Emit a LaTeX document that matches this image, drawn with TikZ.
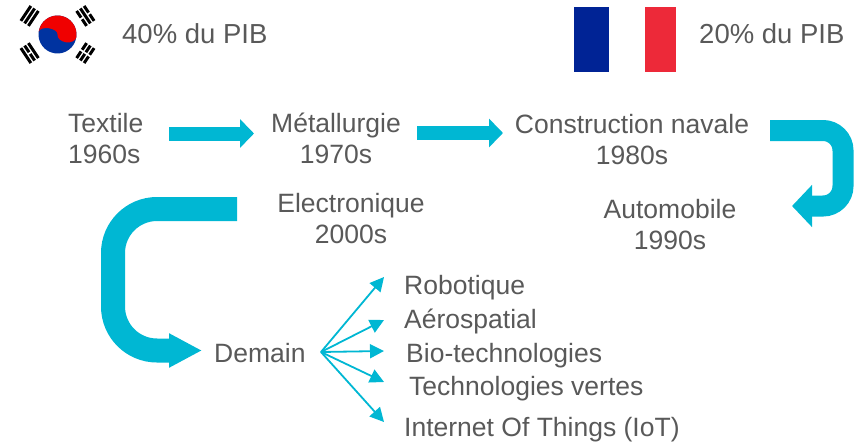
\documentclass[tikz,border=0pt]{standalone}
\usepackage{fontspec}
\setmainfont{Liberation Sans}
\usetikzlibrary{arrows.meta}
\definecolor{cyanA}{RGB}{0,183,211}
\definecolor{txtgray}{RGB}{89,89,89}
\definecolor{krred}{RGB}{240,0,0}
\definecolor{krblue}{RGB}{0,51,160}
\definecolor{frblue}{RGB}{0,35,149}
\definecolor{frred}{RGB}{237,41,57}
\newcommand\tstrut{\rule{0pt}{22pt}}
\newcommand\krsolid[1]{\fill (#1-1.5,-9) rectangle (#1+1.5,9);}
\newcommand\krbroken[1]{\fill (#1-1.5,-9) rectangle (#1+1.5,-1); \fill (#1-1.5,1) rectangle (#1+1.5,9);}
\begin{document}
\begin{tikzpicture}[x=1pt,y=-1pt,
  lbl/.style={font=\fontsize{26.5}{31}\selectfont, text=txtgray, inner sep=0pt},
  hdr/.style={font=\fontsize{27.5}{33}\selectfont, text=txtgray, inner sep=0pt},
  two/.style={lbl, align=center, anchor=north},
  blockarrow/.style={draw=cyanA, line width=14pt, -{Triangle[length=14pt,width=28pt]}},
  fanarrow/.style={draw=cyanA, line width=1.8pt, -{Triangle[length=14pt,width=14pt]}},
]
\useasboundingbox (0,0) rectangle (866,444);

% Korean flag
\begin{scope}[shift={(57.5,34.5)}, x=1pt, y=1pt]
  \begin{scope}[rotate=-8]
    \fill[krblue] (0,0) circle (19);
    \fill[krred] (19,0) arc[start angle=0,end angle=180,radius=19]
      arc[start angle=180,end angle=0,x radius=9.5,y radius=5]
      arc[start angle=180,end angle=360,x radius=9.5,y radius=6.5] -- cycle;
  \end{scope}
  \begin{scope}[rotate=146.31] \krsolid{29}\krsolid{33.5}\krsolid{38} \end{scope}
  \begin{scope}[rotate=33.69] \krbroken{29}\krsolid{33.5}\krbroken{38} \end{scope}
  \begin{scope}[rotate=213.69] \krsolid{29}\krbroken{33.5}\krsolid{38} \end{scope}
  \begin{scope}[rotate=-33.69] \krbroken{29}\krbroken{33.5}\krbroken{38} \end{scope}
\end{scope}

% French flag
\fill[frblue] (574,7) rectangle (609,72);
\fill[frred] (645,7) rectangle (676,72);

% texts
\node[hdr, anchor=base west] (kr) at (122,44) {40\% du PIB};
\node[hdr, anchor=base west] (fr) at (699,44) {20\% du PIB};
\node[two, align=left, anchor=north west] (textile) at (68,110) {\tstrut Textile\\1960s};
\node[two] (metal) at (336,110) {\tstrut Métallurgie\\1970s};
\node[two] (naval) at (632,111) {\tstrut Construction navale\\1980s};
\node[two] (auto) at (670,196) {\tstrut Automobile\\1990s};
\node[two] (elec) at (351,190) {\tstrut Electronique\\2000s};
\node[lbl, anchor=base west] (demain) at (214,362) {Demain};
\node[lbl, anchor=base west] (robot) at (404,294) {Robotique};
\node[lbl, anchor=base west] (aero) at (404,328) {Aérospatial};
\node[lbl, anchor=base west] (bio) at (406,362) {Bio-technologies};
\node[lbl, anchor=base west] (verte) at (409,395) {Technologies vertes};
\node[lbl, anchor=base west] (iot) at (404,436) {Internet Of Things (IoT)};

% block arrows
\coordinate (a1s) at (169,133.5); \coordinate (a1e) at (254,133.5);
\coordinate (a2s) at (417,133);   \coordinate (a2e) at (503,133);
\draw[blockarrow] (a1s) -- (a1e);
\draw[blockarrow] (a2s) -- (a2e);

\coordinate (u1) at (770,130.5); \coordinate (u2) at (843,130.5);
\coordinate (u3) at (843,206);   \coordinate (u4) at (792,206);
\draw[draw=cyanA, line width=21pt, rounded corners=20pt,
  -{Triangle[length=20pt,width=41pt]}] (u1) -- (u2) -- (u3) -- (u4);

\coordinate (c1) at (237,209); \coordinate (c2) at (113,209);
\coordinate (c3) at (113,350.5); \coordinate (c4) at (202,350.5);
\draw[draw=cyanA, line width=24pt, rounded corners=44pt,
  -{Triangle[length=33pt,width=32pt]}] (c1) -- (c2) -- (c3) -- (c4);

% fan arrows
\coordinate (fan) at (321,352);
\coordinate (t1) at (384,277);
\coordinate (t2) at (384,320);
\coordinate (t3) at (384,351);
\coordinate (t4) at (384,382);
\coordinate (t5) at (384,422);
\foreach \t in {t1,t2,t3,t4,t5} \draw[fanarrow] (fan) -- (\t);
\end{tikzpicture}
\end{document}
